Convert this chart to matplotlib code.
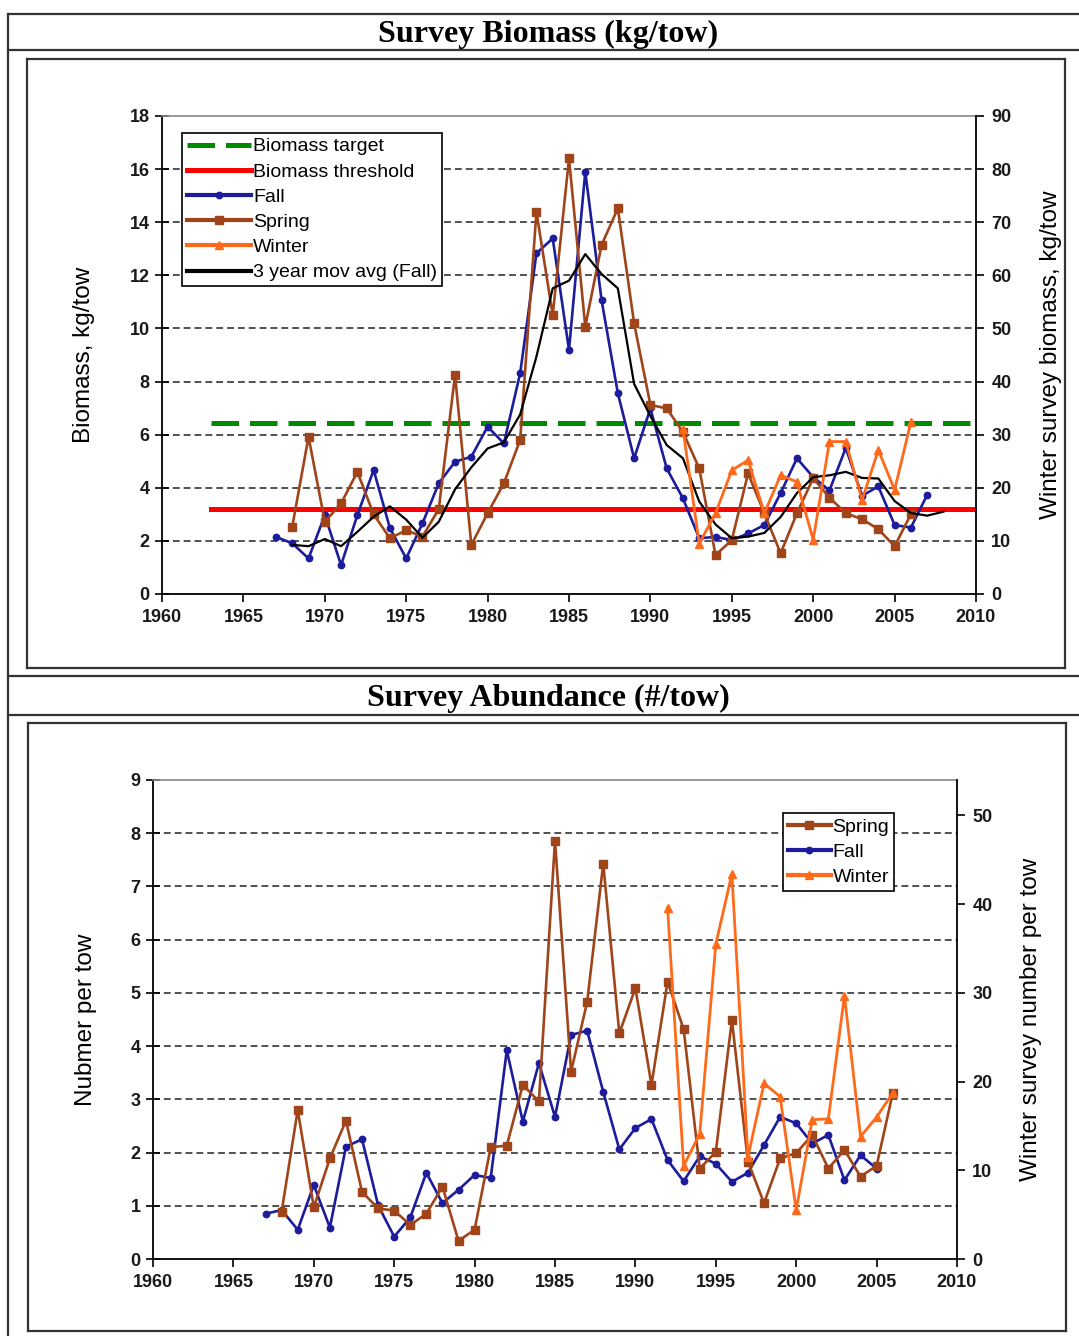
import matplotlib
matplotlib.use('Agg')
import matplotlib.pyplot as plt
from matplotlib.lines import Line2D

plt.rcParams['font.family'] = ['Liberation Sans', 'DejaVu Sans']

# =============================================================================
# Data
# =============================================================================
# --- Survey biomass (kg/tow) ---
bio_fall_years = list(range(1967, 2008))
bio_fall = [2.15, 1.91, 1.34, 2.97, 1.09, 2.97, 4.67, 2.48, 1.34, 2.66,
            4.17, 4.98, 5.17, 6.30, 5.67, 8.31, 12.83, 13.39, 9.19, 15.90,
            11.07, 7.56, 5.11, 6.99, 4.73, 3.60, 2.10, 2.15, 2.03, 2.28,
            2.60, 3.80, 5.11, 4.40, 3.90, 5.50, 3.70, 4.05, 2.60, 2.50, 3.73]

bio_spring_years = list(range(1968, 2007))
bio_spring = [2.53, 5.92, 2.72, 3.41, 4.60, 3.00, 2.10, 2.40, 2.16, 3.20,
              8.25, 1.85, 3.04, 4.17, 5.80, 14.39, 10.50, 16.40, 10.07, 13.14,
              14.52, 10.19, 7.12, 6.99, 6.10, 4.73, 1.47, 2.03, 4.54, 3.04,
              1.53, 3.04, 4.36, 3.63, 3.04, 2.82, 2.44, 1.80, 3.00]

bio_winter_years = list(range(1992, 2007))
bio_winter = [31.0, 9.5, 15.2, 23.3, 25.2, 15.2, 22.4, 21.1, 10.2, 28.7,
              28.7, 17.7, 27.1, 19.6, 32.4]

bio_movavg_years = list(range(1968, 2009))
bio_movavg = [1.85, 1.80, 2.07, 1.80, 2.34, 2.91, 3.30, 2.80, 2.12, 2.72,
              3.94, 4.77, 5.48, 5.71, 6.76, 8.94, 11.51, 11.80, 12.80, 12.05,
              11.51, 7.91, 6.70, 5.61, 5.11, 3.48, 2.62, 2.10, 2.16, 2.30,
              2.90, 3.80, 4.40, 4.47, 4.60, 4.37, 4.35, 3.50, 3.05, 2.95, 3.10]

ref_years = [1963, 2010]
biomass_target = 6.45
biomass_threshold = 3.2

# --- Survey abundance (#/tow) ---
ab_fall_years = list(range(1967, 2006))
ab_fall = [0.85, 0.92, 0.55, 1.39, 0.59, 2.11, 2.25, 1.01, 0.42, 0.78,
           1.62, 1.05, 1.30, 1.58, 1.52, 3.92, 2.58, 3.68, 2.67, 4.21,
           4.29, 3.14, 2.06, 2.46, 2.63, 1.86, 1.46, 1.93, 1.79, 1.45,
           1.62, 2.14, 2.67, 2.55, 2.17, 2.33, 1.48, 1.95, 1.70]

ab_spring_years = list(range(1968, 2007))
ab_spring = [0.89, 2.80, 0.97, 1.89, 2.60, 1.26, 0.95, 0.91, 0.64, 0.85,
             1.36, 0.34, 0.55, 2.10, 2.13, 3.27, 2.96, 7.86, 3.52, 4.83,
             7.43, 4.24, 5.09, 3.27, 5.21, 4.32, 1.70, 2.01, 4.49, 1.83,
             1.05, 1.89, 1.99, 2.33, 1.70, 2.05, 1.55, 1.75, 3.11]

ab_winter_years = list(range(1992, 2007))
ab_winter = [39.6, 10.5, 14.1, 35.5, 43.4, 11.5, 19.8, 18.3, 5.5, 15.7,
             15.8, 29.7, 13.8, 16.0, 18.7]

# =============================================================================
# Styles
# =============================================================================
W, H = 1079, 1336
fall_c = '#1c1c9c'
spring_c = '#a0441a'
winter_c = '#ff6a1a'
frame_c = '#333333'


def rect(l, t, r, b):
    return [l / W, 1 - b / H, (r - l) / W, (b - t) / H]


def hline(fig, x0, x1, y):
    fig.add_artist(Line2D([x0 / W, x1 / W], [1 - y / H, 1 - y / H],
                          transform=fig.transFigure, color=frame_c, lw=1.6))


def vline(fig, x, y0, y1):
    fig.add_artist(Line2D([x / W, x / W], [1 - y0 / H, 1 - y1 / H],
                          transform=fig.transFigure, color=frame_c, lw=1.6))


def box(fig, l, t, r, b):
    hline(fig, l, r, t)
    hline(fig, l, r, b)
    vline(fig, l, t, b)
    vline(fig, r, t, b)


def style_axes(ax, ax2, grid_vals):
    ax.set_xlim(1960, 2010)
    ax.set_xticks(range(1960, 2011, 5))
    for y in grid_vals:
        ax.axhline(y, color='#222222', lw=1.1, dashes=(4.5, 2.6), zorder=1)
    ax.spines['left'].set_color('black')
    ax.spines['bottom'].set_color('black')
    ax.spines['left'].set_linewidth(1.3)
    ax.spines['bottom'].set_linewidth(1.3)
    ax.spines['top'].set_color('#888888')
    ax.spines['top'].set_linewidth(1.2)
    ax.spines['right'].set_visible(False)
    for s in ['left', 'bottom', 'top']:
        ax2.spines[s].set_visible(False)
    ax2.spines['right'].set_color('black')
    ax2.spines['right'].set_linewidth(1.3)
    ax.tick_params(axis='y', direction='inout', length=10, width=1.2,
                   labelsize=13, pad=4)
    ax.tick_params(axis='x', direction='out', length=6, width=1.2,
                   labelsize=13, pad=5)
    ax2.tick_params(axis='y', direction='out', length=6, width=1.2,
                    labelsize=13, pad=5)
    for lab in ax.get_xticklabels() + ax.get_yticklabels() + ax2.get_yticklabels():
        lab.set_fontweight('bold')
        lab.set_color('#1a1a1a')


fig = plt.figure(figsize=(W / 100, H / 100), dpi=100)
fig.patch.set_facecolor('white')

# --- frames ---
hline(fig, 8, W, 14)
hline(fig, 8, W, 50)
hline(fig, 8, W, 676)
hline(fig, 8, W, 715)
vline(fig, 8, 14, H)
box(fig, 27, 59, 1065, 668)
box(fig, 28, 723, 1066, 1331)

fig.text(548 / W, 1 - 34 / H, 'Survey Biomass (kg/tow)', ha='center', va='center',
         family='Liberation Serif', fontweight='bold', fontsize=23)
fig.text(548 / W, 1 - 698 / H, 'Survey Abundance (#/tow)', ha='center', va='center',
         family='Liberation Serif', fontweight='bold', fontsize=23)

# =============================================================================
# Top: survey biomass
# =============================================================================
ax = fig.add_axes(rect(162, 116, 976, 594))
ax2 = ax.twinx()
ax.set_ylim(0, 18)
ax.set_yticks(range(0, 19, 2))
ax2.set_ylim(0, 90)
ax2.set_yticks(range(0, 91, 10))

h_target, = ax.plot(ref_years, [biomass_target] * 2, color='#008a00', lw=3.6,
                    dashes=(5.5, 2.2), zorder=3)
h_thresh, = ax.plot(ref_years, [biomass_threshold] * 2, color='#ff0000', lw=3.6, zorder=3)
h_fall, = ax.plot(bio_fall_years, bio_fall, color=fall_c, lw=1.9, marker='o',
                  ms=4.6, zorder=4)
h_spring, = ax.plot(bio_spring_years, bio_spring, color=spring_c, lw=1.9, marker='s',
                    ms=5.2, zorder=5)
h_avg, = ax.plot(bio_movavg_years, bio_movavg, color='black', lw=1.6, zorder=6)
h_winter, = ax2.plot(bio_winter_years, bio_winter, color=winter_c, lw=2.0, marker='^',
                     ms=5.5, zorder=4)

style_axes(ax, ax2, range(2, 17, 2))
ax.set_ylabel('Biomass, kg/tow', fontsize=17.5)
ax.yaxis.set_label_coords(-0.082, 0.5)
ax2.set_ylabel('Winter survey biomass, kg/tow', fontsize=17.5, rotation=90)
ax2.yaxis.set_label_coords(1.079, 0.5)

leg = ax2.legend([h_target, h_thresh, h_fall, h_spring, h_winter, h_avg],
                 ['Biomass target', 'Biomass threshold', 'Fall', 'Spring', 'Winter',
                  '3 year mov avg (Fall)'],
                 loc='upper left', bbox_to_anchor=(0.0246, 0.9644), borderaxespad=0,
                 fontsize=14, fancybox=False, framealpha=1, edgecolor='black',
                 handlelength=3.3, handletextpad=0.1, labelspacing=0.39,
                 borderpad=0.25, numpoints=1)
leg.get_frame().set_linewidth(1.2)
leg.set_zorder(10)
for ln in leg.get_lines()[2:]:
    ln.set_linewidth(3.0)

# =============================================================================
# Bottom: survey abundance
# =============================================================================
bx = fig.add_axes(rect(153, 780, 957, 1259))
bx2 = bx.twinx()
bx.set_ylim(0, 9)
bx.set_yticks(range(0, 10))
bx2.set_ylim(0, 54)
bx2.set_yticks(range(0, 51, 10))

b_fall, = bx.plot(ab_fall_years, ab_fall, color=fall_c, lw=1.9, marker='o', ms=4.6,
                  zorder=4)
b_spring, = bx.plot(ab_spring_years, ab_spring, color=spring_c, lw=1.9, marker='s',
                    ms=5.2, zorder=5)
b_winter, = bx2.plot(ab_winter_years, ab_winter, color=winter_c, lw=2.0, marker='^',
                     ms=5.5, zorder=4)

style_axes(bx, bx2, range(1, 9))
bx.set_ylabel('Nubmer per tow', fontsize=17.5)
bx.yaxis.set_label_coords(-0.07, 0.5)
bx2.set_ylabel('Winter survey number per tow', fontsize=17.5, rotation=90)
bx2.yaxis.set_label_coords(1.078, 0.5)

leg2 = bx2.legend([b_spring, b_fall, b_winter], ['Spring', 'Fall', 'Winter'],
                  loc='upper left', bbox_to_anchor=(0.7836, 0.931), borderaxespad=0,
                  fontsize=14, fancybox=False, framealpha=1, edgecolor='black',
                  handlelength=2.2, handletextpad=0.1, labelspacing=0.39,
                  borderpad=0.25, numpoints=1)
leg2.get_frame().set_linewidth(1.2)
for ln in leg2.get_lines():
    ln.set_linewidth(3.0)

fig.savefig('out.png', dpi=100, facecolor='white')
